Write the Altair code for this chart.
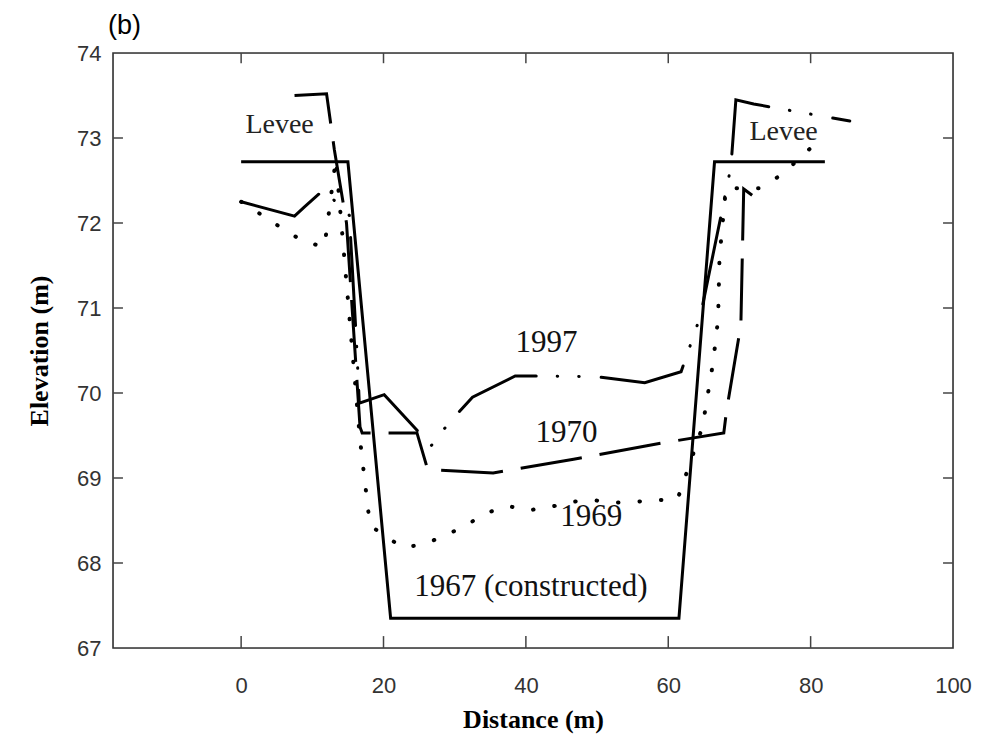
import altair as alt
import pandas as pd

# ---- data ----
x_1967 = [0, 15, 21, 61.5, 66.5, 82]
y_1967 = [72.72, 72.72, 67.35, 67.35, 72.72, 72.72]

x_1969 = [0, 2.8, 5.7, 8.8, 11.7, 13.3, 16.7, 18.1, 22.7, 25.6, 28.6, 31.5, 34.5, 37.5,
          40.4, 43.5, 46.4, 49.4, 52.4, 55.3, 58.4, 61.3, 64.8, 66.3, 67.0, 67.2, 68.1,
          72.7, 75.8, 78.7, 81.5]
y_1969 = [72.25, 72.1, 71.94, 71.78, 71.72, 72.75, 69.45, 68.44, 68.18, 68.22, 68.32, 68.44,
          68.59, 68.67, 68.62, 68.66, 68.72, 68.74, 68.71, 68.72, 68.74, 68.75, 69.6, 70.36,
          70.87, 71.6, 72.41, 72.41, 72.56, 72.78, 73.0]

x_1970 = [7.5, 12, 13.1, 14.8, 16.7, 17.0, 24.7, 26.2, 35.4, 46.7, 59, 67.8, 68.2, 70.2,
          70.6, 73]
y_1970 = [73.5, 73.52, 72.86, 72.0, 69.6, 69.53, 69.53, 69.1, 69.06, 69.22, 69.41, 69.53,
          69.8, 70.8, 72.4, 72.25]

x_1997 = [0, 7.5, 8.9, 11.6, 15.2, 16.2, 16.6, 20.1, 26.7, 29.2, 32.5, 38.5, 42, 50.1,
          56.7, 61.8, 64.5, 67.2, 68.8, 69.5, 72, 85.5]
y_1997 = [72.25, 72.08, 72.19, 72.39, 72.09, 70.6, 69.88, 69.98, 69.38, 69.65, 69.95, 70.2,
          70.2, 70.19, 70.12, 70.25, 70.9, 72.0, 72.66, 73.45, 73.4, 73.2]

label_text = ["1997", "1970", "1969", "1967 (constructed)"]
label_x = [42.9, 45.7, 49.2, 40.7]
label_y = [70.59, 69.53, 68.54, 67.72]

levee_text = ["Levee", "Levee"]
levee_x = [5.4, 76.2]
levee_y = [73.15, 73.07]

panel_text = ["(b)"]
panel_x = [-18.7]
panel_y = [74.22]

x_ticks = [0, 20, 40, 60, 80, 100]
y_ticks = [67, 68, 69, 70, 71, 72, 73, 74]
x_domain = [-18, 100]
y_domain = [67, 74]


def series(xs, ys):
    return pd.DataFrame({"x": xs, "y": ys, "o": list(range(len(xs)))})


xs = alt.Scale(domain=x_domain, nice=False, zero=False)
ys = alt.Scale(domain=y_domain, nice=False, zero=False)

xaxis = alt.Axis(values=x_ticks, grid=False, domain=False, ticks=False, format="d",
                 labelFont="Liberation Sans", labelFontSize=22, labelColor="#333",
                 labelPadding=27, titleFont="Liberation Serif", titleFontSize=26,
                 titleFontWeight="bold", titleColor="black", titlePadding=10,
                 labelFlush=False)
yaxis = alt.Axis(values=y_ticks, grid=False, domain=False, ticks=False, format="d",
                 labelFont="Liberation Sans", labelFontSize=22, labelColor="#333",
                 labelPadding=12, titleFont="Liberation Serif", titleFontSize=26,
                 titleFontWeight="bold", titleColor="black", titlePadding=24,
                 labelFlush=False)

xenc = alt.X("x:Q", scale=xs, title="Distance (m)", axis=xaxis)
yenc = alt.Y("y:Q", scale=ys, title="Elevation (m)", axis=yaxis)


def line(df, **kw):
    return alt.Chart(df).mark_line(color="black", **kw).encode(
        x=xenc, y=yenc, order="o:Q")


l1967 = line(series(x_1967, y_1967), strokeWidth=3)
l1969 = line(series(x_1969, y_1969), strokeWidth=4, strokeDash=[0.5, 21], strokeCap="round")
l1970 = line(series(x_1970, y_1970), strokeWidth=3, strokeDash=[62, 18])
l1997 = line(series(x_1997, y_1997), strokeWidth=3, strokeDash=[88, 21, 0.5, 21, 0.5, 22],
             strokeCap="round")

# tick marks (inside, mirrored on all four sides), built as short two-point lines
inner_x = [t for t in x_ticks if t < 100]
inner_y = [t for t in y_ticks if 67 < t < 74]
rows = []
for i, t in enumerate(inner_x):
    rows += [{"id": f"b{i}", "o": 0, "x": t, "y": y_domain[0]},
             {"id": f"b{i}", "o": 1, "x": t, "y": y_domain[0] + 0.14},
             {"id": f"t{i}", "o": 0, "x": t, "y": y_domain[1]},
             {"id": f"t{i}", "o": 1, "x": t, "y": y_domain[1] - 0.12}]
for i, t in enumerate(inner_y):
    rows += [{"id": f"l{i}", "o": 0, "x": x_domain[0], "y": t},
             {"id": f"l{i}", "o": 1, "x": x_domain[0] + 1.4, "y": t},
             {"id": f"r{i}", "o": 0, "x": x_domain[1], "y": t},
             {"id": f"r{i}", "o": 1, "x": x_domain[1] - 1.4, "y": t}]
ticks = alt.Chart(pd.DataFrame(rows)).mark_line(color="#444", strokeWidth=1.5).encode(
    x=xenc, y=yenc, detail="id:N", order="o:Q")

frame_df = pd.DataFrame({"x": [x_domain[0]], "x2": [x_domain[1]],
                         "y": [y_domain[0]], "y2": [y_domain[1]]})
frame = alt.Chart(frame_df).mark_rect(fill=None, stroke="#333", strokeWidth=1.6,
                                      fillOpacity=0).encode(
    x=xenc, x2="x2:Q", y=yenc, y2="y2:Q")

labels = alt.Chart(pd.DataFrame({"t": label_text, "x": label_x, "y": label_y})).mark_text(
    font="Liberation Serif", fontSize=31, color="#111", baseline="middle", align="center"
).encode(x=xenc, y=yenc, text="t:N")

levees = alt.Chart(pd.DataFrame({"t": levee_text, "x": levee_x, "y": levee_y})).mark_text(
    font="Liberation Serif", fontSize=28, color="#222", baseline="middle", align="center"
).encode(x=xenc, y=yenc, text="t:N")

panel = alt.Chart(pd.DataFrame({"t": panel_text, "x": panel_x, "y": panel_y})).mark_text(
    font="Liberation Sans", fontSize=27, color="black", baseline="alphabetic", align="left"
).encode(x=xenc, y=yenc, text="t:N")

chart = alt.layer(l1967, frame, ticks, l1969, l1970, l1997, labels, levees, panel).properties(
    width=840, height=595,
    autosize=alt.AutoSizeParams(type="none"),
    padding={"left": 105, "top": 45, "right": 35, "bottom": 88},
).configure_view(stroke=None).configure(background="white")

chart.save("out.html", embed_options={"renderer": "svg", "actions": False})
